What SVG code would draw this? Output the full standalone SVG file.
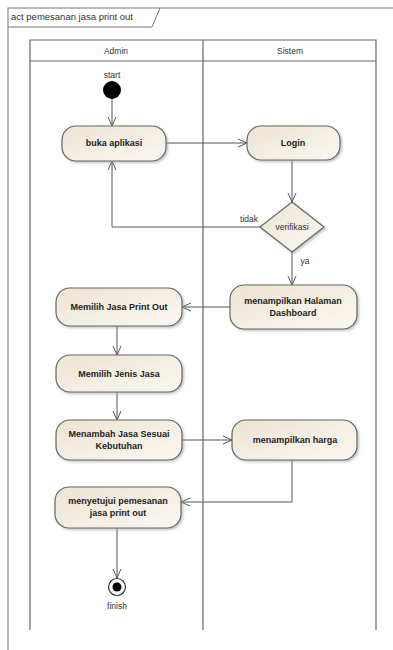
<svg xmlns="http://www.w3.org/2000/svg" width="393" height="650" viewBox="0 0 393 650">
<defs>
<linearGradient id="g" x1="0" y1="0" x2="1" y2="1">
<stop offset="0" stop-color="#EDE4D3"/>
<stop offset="1" stop-color="#FBF8F2"/>
</linearGradient>
<marker id="a" markerWidth="10" markerHeight="10" refX="9" refY="5" orient="auto" markerUnits="userSpaceOnUse">
<path d="M0,1 L9,5 L0,9" fill="none" stroke="#555" stroke-width="1"/>
</marker>
<filter id="sh" x="-10%" y="-10%" width="130%" height="140%">
<feDropShadow dx="1.5" dy="1.5" stdDeviation="1" flood-color="#999" flood-opacity="0.6"/>
</filter>
</defs>
<style>
.frame{fill:none;stroke:#777;stroke-width:1}
.lane{fill:none;stroke:#666;stroke-width:1.2}
.node{fill:url(#g);stroke:#666;stroke-width:1.2;filter:url(#sh)}
.t{font-family:"Liberation Sans",Arial,sans-serif;font-size:9px;font-weight:bold;fill:#222;text-anchor:middle}
.s{font-family:"Liberation Sans",Arial,sans-serif;font-size:8.5px;fill:#333;text-anchor:middle}
.e{fill:none;stroke:#555;stroke-width:1}
</style>
<rect width="393" height="650" fill="#fff"/>
<g id="frame">
<rect class="frame" x="8" y="8" width="400" height="660"/>
<path class="frame" d="M8,27 L152,27 L160,8"/>
<text x="11" y="20" font-family="Liberation Sans,Arial,sans-serif" font-size="9.5px" fill="#333">act pemesanan jasa print out</text>
</g>
<g id="lanes">
<path class="lane" d="M30,630 L30,40 L376,40 L376,630 M203,40 L203,630 M30,61 L376,61"/>
<text class="s" x="116" y="54">Admin</text>
<text class="s" x="290" y="54">Sistem</text>
</g>
<g id="connectors">
<path class="e" d="M112,99 L112,126" marker-end="url(#a)"/>
<path class="e" d="M166,143 L247,143" marker-end="url(#a)"/>
<path class="e" d="M292,160 L292,202" marker-end="url(#a)"/>
<path class="e" d="M262,227 L112,227 L112,161" marker-end="url(#a)"/>
<text class="s" x="249" y="222" font-size="7px">tidak</text>
<path class="e" d="M292,252 L292,285" marker-end="url(#a)"/>
<text class="s" x="305" y="264" font-size="7px">ya</text>
<path class="e" d="M230,307 L182,307" marker-end="url(#a)"/>
<path class="e" d="M117,326 L117,355" marker-end="url(#a)"/>
<path class="e" d="M117,392 L117,420" marker-end="url(#a)"/>
<path class="e" d="M182,440 L232,440" marker-end="url(#a)"/>
<path class="e" d="M292,460 L292,502 L181,502" marker-end="url(#a)"/>
<path class="e" d="M117,528 L117,578" marker-end="url(#a)"/>
</g>
<g id="start">
<circle cx="112" cy="90" r="9" fill="#000"/>
<text class="s" x="112" y="78" font-size="7px">start</text>
</g>
<g id="buka">
<rect class="node" x="62" y="126" width="104" height="35" rx="14"/>
<text class="t" x="114" y="146">buka aplikasi</text>
</g>
<g id="login">
<rect class="node" x="247" y="126" width="93" height="34" rx="14"/>
<text class="t" x="293" y="146">Login</text>
</g>
<g id="verifikasi">
<path class="node" d="M292,202 L324,227 L292,252 L260,227 Z"/>
<text class="s" x="292" y="230" font-size="8px">verifikasi</text>
</g>
<g id="dashboard">
<rect class="node" x="230" y="285" width="127" height="44" rx="14"/>
<text class="t" x="293" y="304">menampilkan Halaman</text>
<text class="t" x="293" y="316">Dashboard</text>
</g>
<g id="memilihjasa">
<rect class="node" x="56" y="288" width="126" height="38" rx="14"/>
<text class="t" x="119" y="310">Memilih Jasa Print Out</text>
</g>
<g id="memilihjenis">
<rect class="node" x="56" y="355" width="126" height="37" rx="14"/>
<text class="t" x="119" y="377">Memilih Jenis Jasa</text>
</g>
<g id="menambah">
<rect class="node" x="56" y="420" width="126" height="40" rx="14"/>
<text class="t" x="119" y="437">Menambah Jasa Sesuai</text>
<text class="t" x="119" y="449">Kebutuhan</text>
</g>
<g id="harga">
<rect class="node" x="232" y="420" width="125" height="40" rx="14"/>
<text class="t" x="295" y="443">menampilkan harga</text>
</g>
<g id="menyetujui">
<rect class="node" x="55" y="487" width="126" height="41" rx="14"/>
<text class="t" x="118" y="504">menyetujui pemesanan</text>
<text class="t" x="118" y="516">jasa print out</text>
</g>
<g id="finish">
<circle cx="117" cy="587" r="8.5" fill="#fff" stroke="#333" stroke-width="1.2"/>
<circle cx="117" cy="587" r="4.5" fill="#000"/>
<text class="s" x="117" y="609" font-size="7.5px">finish</text>
</g>
</svg>
